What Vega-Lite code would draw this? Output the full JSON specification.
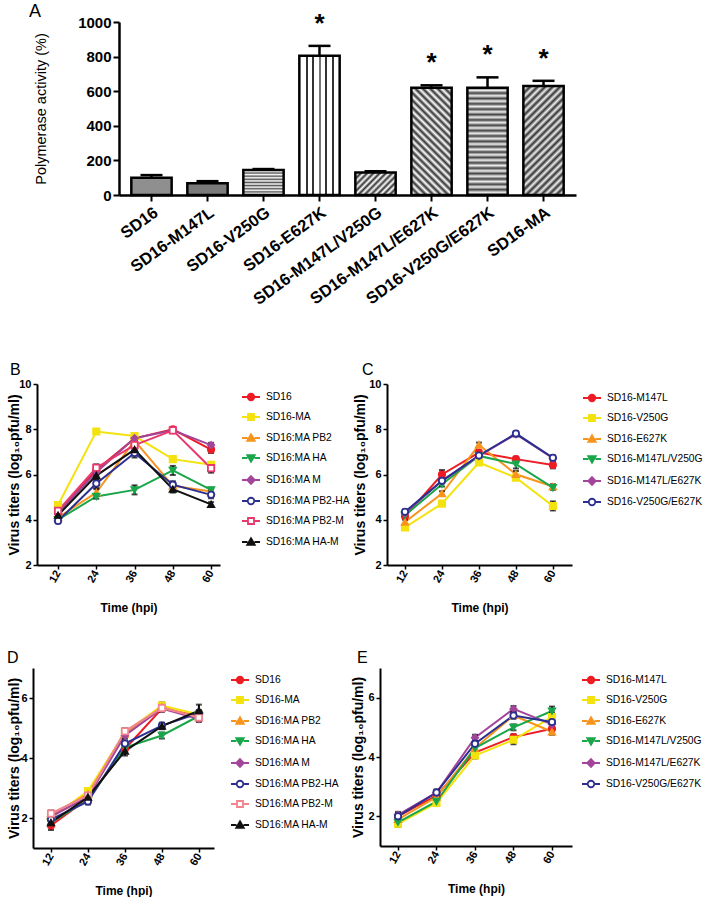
{
  "$schema": "https://vega.github.io/schema/vega-lite/v6.json",
  "background": "white",
  "padding": {"left": 0, "top": 2, "right": 0, "bottom": 0},
  "config": {
    "font": "Liberation Sans",
    "view": {"stroke": null},
    "axis": {"domainColor": "#000", "domainWidth": 2, "tickColor": "#000", "tickWidth": 1.5, "tickSize": 4, "labelColor": "#000", "titleColor": "#000", "grid": false, "labelFontWeight": "bold", "titleFontWeight": "bold", "labelFont": "Liberation Sans", "titleFont": "Liberation Sans", "labelPadding": 2, "labelOverlap": false},
    "legend": {"labelFont": "Liberation Sans", "labelFontSize": 10.3, "labelColor": "#000", "symbolSize": 100, "symbolStrokeWidth": 1.8, "rowPadding": 6, "labelOffset": 9},
    "title": {"font": "Liberation Sans", "fontWeight": "normal", "color": "#000"}
  },
  "datasets": {
    "A": [
      {"strain": "SD16", "activity": 100, "upper": 115, "sig": false},
      {"strain": "SD16-M147L", "activity": 68, "upper": 80, "sig": false},
      {"strain": "SD16-V250G", "activity": 145, "upper": 150, "sig": false},
      {"strain": "SD16-E627K", "activity": 805, "upper": 862, "sig": true},
      {"strain": "SD16-M147L/V250G", "activity": 130, "upper": 137, "sig": false},
      {"strain": "SD16-M147L/E627K", "activity": 620, "upper": 634, "sig": true},
      {"strain": "SD16-V250G/E627K", "activity": 620, "upper": 680, "sig": true},
      {"strain": "SD16-MA", "activity": 630, "upper": 660, "sig": true}
    ],
    "B": [
      {"strain": "SD16", "time": 12, "titer": 4.3, "err": 0.15},
      {"strain": "SD16", "time": 24, "titer": 6.2, "err": 0.15},
      {"strain": "SD16", "time": 36, "titer": 7.6, "err": 0.2},
      {"strain": "SD16", "time": 48, "titer": 8.0, "err": 0.1},
      {"strain": "SD16", "time": 60, "titer": 7.1, "err": 0.15},
      {"strain": "SD16-MA", "time": 12, "titer": 4.65, "err": 0.1},
      {"strain": "SD16-MA", "time": 24, "titer": 7.9, "err": 0.1},
      {"strain": "SD16-MA", "time": 36, "titer": 7.7, "err": 0.1},
      {"strain": "SD16-MA", "time": 48, "titer": 6.68, "err": 0.1},
      {"strain": "SD16-MA", "time": 60, "titer": 6.43, "err": 0.1},
      {"strain": "SD16:MA PB2", "time": 12, "titer": 4.1, "err": 0.1},
      {"strain": "SD16:MA PB2", "time": 24, "titer": 5.2, "err": 0.15},
      {"strain": "SD16:MA PB2", "time": 36, "titer": 7.5, "err": 0.3},
      {"strain": "SD16:MA PB2", "time": 48, "titer": 5.5, "err": 0.15},
      {"strain": "SD16:MA PB2", "time": 60, "titer": 5.25, "err": 0.1},
      {"strain": "SD16:MA HA", "time": 12, "titer": 4.0, "err": 0.1},
      {"strain": "SD16:MA HA", "time": 24, "titer": 5.03, "err": 0.1},
      {"strain": "SD16:MA HA", "time": 36, "titer": 5.32, "err": 0.2},
      {"strain": "SD16:MA HA", "time": 48, "titer": 6.18, "err": 0.2},
      {"strain": "SD16:MA HA", "time": 60, "titer": 5.32, "err": 0.1},
      {"strain": "SD16:MA M", "time": 12, "titer": 4.3, "err": 0.1},
      {"strain": "SD16:MA M", "time": 24, "titer": 6.1, "err": 0.15},
      {"strain": "SD16:MA M", "time": 36, "titer": 7.6, "err": 0.2},
      {"strain": "SD16:MA M", "time": 48, "titer": 7.95, "err": 0.1},
      {"strain": "SD16:MA M", "time": 60, "titer": 7.3, "err": 0.1},
      {"strain": "SD16:MA PB2-HA", "time": 12, "titer": 3.95, "err": 0.1},
      {"strain": "SD16:MA PB2-HA", "time": 24, "titer": 5.6, "err": 0.2},
      {"strain": "SD16:MA PB2-HA", "time": 36, "titer": 6.95, "err": 0.1},
      {"strain": "SD16:MA PB2-HA", "time": 48, "titer": 5.55, "err": 0.15},
      {"strain": "SD16:MA PB2-HA", "time": 60, "titer": 5.1, "err": 0.15},
      {"strain": "SD16:MA PB2-M", "time": 12, "titer": 4.4, "err": 0.15},
      {"strain": "SD16:MA PB2-M", "time": 24, "titer": 6.3, "err": 0.15},
      {"strain": "SD16:MA PB2-M", "time": 36, "titer": 7.3, "err": 0.2},
      {"strain": "SD16:MA PB2-M", "time": 48, "titer": 7.95, "err": 0.1},
      {"strain": "SD16:MA PB2-M", "time": 60, "titer": 6.28, "err": 0.2},
      {"strain": "SD16:MA HA-M", "time": 12, "titer": 4.2, "err": 0.1},
      {"strain": "SD16:MA HA-M", "time": 24, "titer": 5.95, "err": 0.2},
      {"strain": "SD16:MA HA-M", "time": 36, "titer": 7.1, "err": 0.35},
      {"strain": "SD16:MA HA-M", "time": 48, "titer": 5.35, "err": 0.15},
      {"strain": "SD16:MA HA-M", "time": 60, "titer": 4.68, "err": 0.1}
    ],
    "C": [
      {"strain": "SD16-M147L", "time": 12, "titer": 4.15, "err": 0.1},
      {"strain": "SD16-M147L", "time": 24, "titer": 6.0, "err": 0.2},
      {"strain": "SD16-M147L", "time": 36, "titer": 6.97, "err": 0.1},
      {"strain": "SD16-M147L", "time": 48, "titer": 6.68, "err": 0.1},
      {"strain": "SD16-M147L", "time": 60, "titer": 6.42, "err": 0.15},
      {"strain": "SD16-V250G", "time": 12, "titer": 3.66, "err": 0.1},
      {"strain": "SD16-V250G", "time": 24, "titer": 4.71, "err": 0.1},
      {"strain": "SD16-V250G", "time": 36, "titer": 6.53, "err": 0.1},
      {"strain": "SD16-V250G", "time": 48, "titer": 5.86, "err": 0.1},
      {"strain": "SD16-V250G", "time": 60, "titer": 4.61, "err": 0.2},
      {"strain": "SD16-E627K", "time": 12, "titer": 3.9, "err": 0.1},
      {"strain": "SD16-E627K", "time": 24, "titer": 5.16, "err": 0.1},
      {"strain": "SD16-E627K", "time": 36, "titer": 7.31, "err": 0.1},
      {"strain": "SD16-E627K", "time": 48, "titer": 6.01, "err": 0.15},
      {"strain": "SD16-E627K", "time": 60, "titer": 5.47, "err": 0.1},
      {"strain": "SD16-M147L/V250G", "time": 12, "titer": 4.2, "err": 0.1},
      {"strain": "SD16-M147L/V250G", "time": 24, "titer": 5.57, "err": 0.1},
      {"strain": "SD16-M147L/V250G", "time": 36, "titer": 6.82, "err": 0.1},
      {"strain": "SD16-M147L/V250G", "time": 48, "titer": 6.46, "err": 0.2},
      {"strain": "SD16-M147L/V250G", "time": 60, "titer": 5.42, "err": 0.1},
      {"strain": "SD16-M147L/E627K", "time": 12, "titer": 4.3, "err": 0.1},
      {"strain": "SD16-M147L/E627K", "time": 24, "titer": 5.72, "err": 0.1},
      {"strain": "SD16-M147L/E627K", "time": 36, "titer": 6.82, "err": 0.1},
      {"strain": "SD16-M147L/E627K", "time": 48, "titer": 7.78, "err": 0.1},
      {"strain": "SD16-M147L/E627K", "time": 60, "titer": 6.72, "err": 0.1},
      {"strain": "SD16-V250G/E627K", "time": 12, "titer": 4.35, "err": 0.1},
      {"strain": "SD16-V250G/E627K", "time": 24, "titer": 5.72, "err": 0.1},
      {"strain": "SD16-V250G/E627K", "time": 36, "titer": 6.84, "err": 0.1},
      {"strain": "SD16-V250G/E627K", "time": 48, "titer": 7.81, "err": 0.1},
      {"strain": "SD16-V250G/E627K", "time": 60, "titer": 6.74, "err": 0.1}
    ],
    "D": [
      {"strain": "SD16", "time": 12, "titer": 1.75, "err": 0.15},
      {"strain": "SD16", "time": 24, "titer": 2.65, "err": 0.1},
      {"strain": "SD16", "time": 36, "titer": 4.3, "err": 0.1},
      {"strain": "SD16", "time": 48, "titer": 5.65, "err": 0.1},
      {"strain": "SD16", "time": 60, "titer": 5.4, "err": 0.1},
      {"strain": "SD16-MA", "time": 12, "titer": 2.0, "err": 0.1},
      {"strain": "SD16-MA", "time": 24, "titer": 2.9, "err": 0.1},
      {"strain": "SD16-MA", "time": 36, "titer": 4.85, "err": 0.1},
      {"strain": "SD16-MA", "time": 48, "titer": 5.75, "err": 0.1},
      {"strain": "SD16-MA", "time": 60, "titer": 5.45, "err": 0.1},
      {"strain": "SD16:MA PB2", "time": 12, "titer": 2.1, "err": 0.1},
      {"strain": "SD16:MA PB2", "time": 24, "titer": 2.8, "err": 0.1},
      {"strain": "SD16:MA PB2", "time": 36, "titer": 4.8, "err": 0.1},
      {"strain": "SD16:MA PB2", "time": 48, "titer": 5.7, "err": 0.1},
      {"strain": "SD16:MA PB2", "time": 60, "titer": 5.35, "err": 0.1},
      {"strain": "SD16:MA HA", "time": 12, "titer": 1.85, "err": 0.1},
      {"strain": "SD16:MA HA", "time": 24, "titer": 2.6, "err": 0.1},
      {"strain": "SD16:MA HA", "time": 36, "titer": 4.35, "err": 0.1},
      {"strain": "SD16:MA HA", "time": 48, "titer": 4.75, "err": 0.1},
      {"strain": "SD16:MA HA", "time": 60, "titer": 5.4, "err": 0.1},
      {"strain": "SD16:MA M", "time": 12, "titer": 2.05, "err": 0.1},
      {"strain": "SD16:MA M", "time": 24, "titer": 2.7, "err": 0.1},
      {"strain": "SD16:MA M", "time": 36, "titer": 4.75, "err": 0.1},
      {"strain": "SD16:MA M", "time": 48, "titer": 5.65, "err": 0.1},
      {"strain": "SD16:MA M", "time": 60, "titer": 5.3, "err": 0.1},
      {"strain": "SD16:MA PB2-HA", "time": 12, "titer": 1.95, "err": 0.1},
      {"strain": "SD16:MA PB2-HA", "time": 24, "titer": 2.55, "err": 0.1},
      {"strain": "SD16:MA PB2-HA", "time": 36, "titer": 4.48, "err": 0.1},
      {"strain": "SD16:MA PB2-HA", "time": 48, "titer": 5.08, "err": 0.1},
      {"strain": "SD16:MA PB2-HA", "time": 60, "titer": 5.5, "err": 0.1},
      {"strain": "SD16:MA PB2-M", "time": 12, "titer": 2.15, "err": 0.1},
      {"strain": "SD16:MA PB2-M", "time": 24, "titer": 2.75, "err": 0.1},
      {"strain": "SD16:MA PB2-M", "time": 36, "titer": 4.89, "err": 0.1},
      {"strain": "SD16:MA PB2-M", "time": 48, "titer": 5.67, "err": 0.1},
      {"strain": "SD16:MA PB2-M", "time": 60, "titer": 5.35, "err": 0.1},
      {"strain": "SD16:MA HA-M", "time": 12, "titer": 1.85, "err": 0.15},
      {"strain": "SD16:MA HA-M", "time": 24, "titer": 2.7, "err": 0.1},
      {"strain": "SD16:MA HA-M", "time": 36, "titer": 4.23, "err": 0.15},
      {"strain": "SD16:MA HA-M", "time": 48, "titer": 5.06, "err": 0.1},
      {"strain": "SD16:MA HA-M", "time": 60, "titer": 5.58, "err": 0.2}
    ],
    "E": [
      {"strain": "SD16-M147L", "time": 12, "titer": 2.0, "err": 0.1},
      {"strain": "SD16-M147L", "time": 24, "titer": 2.7, "err": 0.1},
      {"strain": "SD16-M147L", "time": 36, "titer": 4.15, "err": 0.1},
      {"strain": "SD16-M147L", "time": 48, "titer": 4.67, "err": 0.1},
      {"strain": "SD16-M147L", "time": 60, "titer": 4.95, "err": 0.1},
      {"strain": "SD16-V250G", "time": 12, "titer": 1.75, "err": 0.1},
      {"strain": "SD16-V250G", "time": 24, "titer": 2.45, "err": 0.1},
      {"strain": "SD16-V250G", "time": 36, "titer": 4.05, "err": 0.1},
      {"strain": "SD16-V250G", "time": 48, "titer": 4.58, "err": 0.15},
      {"strain": "SD16-V250G", "time": 60, "titer": 5.35, "err": 0.15},
      {"strain": "SD16-E627K", "time": 12, "titer": 1.9, "err": 0.1},
      {"strain": "SD16-E627K", "time": 24, "titer": 2.65, "err": 0.1},
      {"strain": "SD16-E627K", "time": 36, "titer": 4.3, "err": 0.1},
      {"strain": "SD16-E627K", "time": 48, "titer": 5.4, "err": 0.1},
      {"strain": "SD16-E627K", "time": 60, "titer": 4.85, "err": 0.1},
      {"strain": "SD16-M147L/V250G", "time": 12, "titer": 1.8, "err": 0.1},
      {"strain": "SD16-M147L/V250G", "time": 24, "titer": 2.5, "err": 0.1},
      {"strain": "SD16-M147L/V250G", "time": 36, "titer": 4.3, "err": 0.1},
      {"strain": "SD16-M147L/V250G", "time": 48, "titer": 5.0, "err": 0.1},
      {"strain": "SD16-M147L/V250G", "time": 60, "titer": 5.55, "err": 0.15},
      {"strain": "SD16-M147L/E627K", "time": 12, "titer": 2.05, "err": 0.1},
      {"strain": "SD16-M147L/E627K", "time": 24, "titer": 2.8, "err": 0.1},
      {"strain": "SD16-M147L/E627K", "time": 36, "titer": 4.65, "err": 0.1},
      {"strain": "SD16-M147L/E627K", "time": 48, "titer": 5.62, "err": 0.1},
      {"strain": "SD16-M147L/E627K", "time": 60, "titer": 5.1, "err": 0.1},
      {"strain": "SD16-V250G/E627K", "time": 12, "titer": 2.0, "err": 0.1},
      {"strain": "SD16-V250G/E627K", "time": 24, "titer": 2.8, "err": 0.1},
      {"strain": "SD16-V250G/E627K", "time": 36, "titer": 4.45, "err": 0.1},
      {"strain": "SD16-V250G/E627K", "time": 48, "titer": 5.4, "err": 0.1},
      {"strain": "SD16-V250G/E627K", "time": 60, "titer": 5.18, "err": 0.1}
    ]
  },
  "spacing": 54,
  "vconcat": [
    {
      "spacing": 0,
      "hconcat": [
        {"width": 24, "height": 10, "data": {"values": [{"a": 1}]}, "mark": {"type": "point", "opacity": 0}, "view": {"stroke": "transparent"}},
        {
          "width": 457, "height": 173,
          "title": {"text": "A", "anchor": "start", "fontSize": 18, "offset": -10, "dx": -4},
          "data": {"name": "A"},
          "encoding": {
            "x": {"field": "strain", "type": "nominal", "sort": null, "scale": {"paddingInner": 0.28, "paddingOuter": 0.22},
              "axis": {"title": null, "labelAngle": -36, "labelFontSize": 16.5, "labelPadding": 3, "tickSize": 6, "tickWidth": 2, "domainWidth": 2.5}}
          },
          "layer": [
            {
              "mark": {"type": "bar", "stroke": "#000", "strokeWidth": 2.5},
              "encoding": {
                "y": {"field": "activity", "type": "quantitative", "scale": {"domain": [0, 1000], "nice": false},
                  "axis": {"values": [0, 200, 400, 600, 800, 1000], "format": "d", "title": "Polymerase activity (%)", "titleFontWeight": "normal", "titleFontSize": 14.5, "titleX": -71, "labelFontSize": 15, "tickSize": 6, "tickWidth": 2, "domainWidth": 2.5}},
                "fill": {
                  "condition": [
                    {"test": "datum.strain === 'SD16'", "value": "#8f8f8f"},
                    {"test": "datum.strain === 'SD16-M147L'", "value": "#7a7a7a"},
                    {"test": "datum.strain === 'SD16-V250G'", "value": {"gradient": "linear", "x1": 0, "y1": 0, "x2": 0, "y2": 1, "stops": [
                      {"offset": 0, "color": "#555555"}, {"offset": 0.0625, "color": "#ffffff"}, {"offset": 0.125, "color": "#555555"}, {"offset": 0.1875, "color": "#ffffff"},
                      {"offset": 0.25, "color": "#555555"}, {"offset": 0.3125, "color": "#ffffff"}, {"offset": 0.375, "color": "#555555"}, {"offset": 0.4375, "color": "#ffffff"},
                      {"offset": 0.5, "color": "#555555"}, {"offset": 0.5625, "color": "#ffffff"}, {"offset": 0.625, "color": "#555555"}, {"offset": 0.6875, "color": "#ffffff"},
                      {"offset": 0.75, "color": "#555555"}, {"offset": 0.8125, "color": "#ffffff"}, {"offset": 0.875, "color": "#555555"}, {"offset": 0.9375, "color": "#ffffff"}, {"offset": 1, "color": "#555555"}]}},
                    {"test": "datum.strain === 'SD16-E627K'", "value": {"gradient": "linear", "x1": 0, "y1": 0, "x2": 1, "y2": 0, "stops": [
                      {"offset": 0, "color": "#ffffff"}, {"offset": 0.155, "color": "#ffffff"}, {"offset": 0.155, "color": "#333333"}, {"offset": 0.205, "color": "#333333"}, {"offset": 0.205, "color": "#ffffff"},
                      {"offset": 0.325, "color": "#ffffff"}, {"offset": 0.325, "color": "#333333"}, {"offset": 0.375, "color": "#333333"}, {"offset": 0.375, "color": "#ffffff"},
                      {"offset": 0.485, "color": "#ffffff"}, {"offset": 0.485, "color": "#777777"}, {"offset": 0.535, "color": "#777777"}, {"offset": 0.535, "color": "#ffffff"},
                      {"offset": 0.645, "color": "#ffffff"}, {"offset": 0.645, "color": "#333333"}, {"offset": 0.695, "color": "#333333"}, {"offset": 0.695, "color": "#ffffff"},
                      {"offset": 0.805, "color": "#ffffff"}, {"offset": 0.805, "color": "#333333"}, {"offset": 0.855, "color": "#333333"}, {"offset": 0.855, "color": "#ffffff"}, {"offset": 1, "color": "#ffffff"}]}},
                    {"test": "datum.strain === 'SD16-M147L/V250G'", "value": {"gradient": "linear", "x1": 0, "y1": 0, "x2": 1.19, "y2": 0.655, "stops": [
                      {"offset": 0, "color": "#333333"}, {"offset": 0.05, "color": "#ffffff"}, {"offset": 0.1, "color": "#333333"}, {"offset": 0.15, "color": "#ffffff"},
                      {"offset": 0.2, "color": "#333333"}, {"offset": 0.25, "color": "#ffffff"}, {"offset": 0.3, "color": "#333333"}, {"offset": 0.35, "color": "#ffffff"},
                      {"offset": 0.4, "color": "#333333"}, {"offset": 0.45, "color": "#ffffff"}, {"offset": 0.5, "color": "#333333"}, {"offset": 0.55, "color": "#ffffff"},
                      {"offset": 0.6, "color": "#333333"}, {"offset": 0.65, "color": "#ffffff"}, {"offset": 0.7, "color": "#333333"}, {"offset": 0.75, "color": "#ffffff"},
                      {"offset": 0.8, "color": "#333333"}, {"offset": 0.85, "color": "#ffffff"}, {"offset": 0.9, "color": "#333333"}, {"offset": 0.95, "color": "#ffffff"}, {"offset": 1, "color": "#333333"}]}},
                    {"test": "datum.strain === 'SD16-M147L/E627K'", "value": {"gradient": "linear", "x1": 0, "y1": 1, "x2": 0.45, "y2": -0.205, "stops": [
                      {"offset": 0, "color": "#333333"}, {"offset": 0.025, "color": "#ffffff"}, {"offset": 0.05, "color": "#333333"}, {"offset": 0.075, "color": "#ffffff"}, {"offset": 0.1, "color": "#333333"}, {"offset": 0.125, "color": "#ffffff"}, {"offset": 0.15, "color": "#333333"}, {"offset": 0.175, "color": "#ffffff"}, {"offset": 0.2, "color": "#333333"}, {"offset": 0.225, "color": "#ffffff"},
                      {"offset": 0.25, "color": "#333333"}, {"offset": 0.275, "color": "#ffffff"}, {"offset": 0.3, "color": "#333333"}, {"offset": 0.325, "color": "#ffffff"}, {"offset": 0.35, "color": "#333333"}, {"offset": 0.375, "color": "#ffffff"}, {"offset": 0.4, "color": "#333333"}, {"offset": 0.425, "color": "#ffffff"}, {"offset": 0.45, "color": "#333333"}, {"offset": 0.475, "color": "#ffffff"},
                      {"offset": 0.5, "color": "#333333"}, {"offset": 0.525, "color": "#ffffff"}, {"offset": 0.55, "color": "#333333"}, {"offset": 0.575, "color": "#ffffff"}, {"offset": 0.6, "color": "#333333"}, {"offset": 0.625, "color": "#ffffff"}, {"offset": 0.65, "color": "#333333"}, {"offset": 0.675, "color": "#ffffff"}, {"offset": 0.7, "color": "#333333"}, {"offset": 0.725, "color": "#ffffff"},
                      {"offset": 0.75, "color": "#333333"}, {"offset": 0.775, "color": "#ffffff"}, {"offset": 0.8, "color": "#333333"}, {"offset": 0.825, "color": "#ffffff"}, {"offset": 0.85, "color": "#333333"}, {"offset": 0.875, "color": "#ffffff"}, {"offset": 0.9, "color": "#333333"}, {"offset": 0.925, "color": "#ffffff"}, {"offset": 0.95, "color": "#333333"}, {"offset": 0.975, "color": "#ffffff"}, {"offset": 1, "color": "#333333"}]}},
                    {"test": "datum.strain === 'SD16-V250G/E627K'", "value": {"gradient": "linear", "x1": 0, "y1": 0, "x2": 0, "y2": 1, "stops": [
                      {"offset": 0, "color": "#444444"}, {"offset": 0.025, "color": "#eeeeee"}, {"offset": 0.05, "color": "#444444"}, {"offset": 0.075, "color": "#eeeeee"}, {"offset": 0.1, "color": "#444444"}, {"offset": 0.125, "color": "#eeeeee"}, {"offset": 0.15, "color": "#444444"}, {"offset": 0.175, "color": "#eeeeee"}, {"offset": 0.2, "color": "#444444"}, {"offset": 0.225, "color": "#eeeeee"},
                      {"offset": 0.25, "color": "#444444"}, {"offset": 0.275, "color": "#eeeeee"}, {"offset": 0.3, "color": "#444444"}, {"offset": 0.325, "color": "#eeeeee"}, {"offset": 0.35, "color": "#444444"}, {"offset": 0.375, "color": "#eeeeee"}, {"offset": 0.4, "color": "#444444"}, {"offset": 0.425, "color": "#eeeeee"}, {"offset": 0.45, "color": "#444444"}, {"offset": 0.475, "color": "#eeeeee"},
                      {"offset": 0.5, "color": "#444444"}, {"offset": 0.525, "color": "#eeeeee"}, {"offset": 0.55, "color": "#444444"}, {"offset": 0.575, "color": "#eeeeee"}, {"offset": 0.6, "color": "#444444"}, {"offset": 0.625, "color": "#eeeeee"}, {"offset": 0.65, "color": "#444444"}, {"offset": 0.675, "color": "#eeeeee"}, {"offset": 0.7, "color": "#444444"}, {"offset": 0.725, "color": "#eeeeee"},
                      {"offset": 0.75, "color": "#444444"}, {"offset": 0.775, "color": "#eeeeee"}, {"offset": 0.8, "color": "#444444"}, {"offset": 0.825, "color": "#eeeeee"}, {"offset": 0.85, "color": "#444444"}, {"offset": 0.875, "color": "#eeeeee"}, {"offset": 0.9, "color": "#444444"}, {"offset": 0.925, "color": "#eeeeee"}, {"offset": 0.95, "color": "#444444"}, {"offset": 0.975, "color": "#eeeeee"}, {"offset": 1, "color": "#444444"}]}},
                    {"test": "datum.strain === 'SD16-MA'", "value": {"gradient": "linear", "x1": 0, "y1": 0, "x2": 0.442, "y2": 1.204, "stops": [
                      {"offset": 0, "color": "#333333"}, {"offset": 0.025, "color": "#eeeeee"}, {"offset": 0.05, "color": "#333333"}, {"offset": 0.075, "color": "#eeeeee"}, {"offset": 0.1, "color": "#333333"}, {"offset": 0.125, "color": "#eeeeee"}, {"offset": 0.15, "color": "#333333"}, {"offset": 0.175, "color": "#eeeeee"}, {"offset": 0.2, "color": "#333333"}, {"offset": 0.225, "color": "#eeeeee"},
                      {"offset": 0.25, "color": "#333333"}, {"offset": 0.275, "color": "#eeeeee"}, {"offset": 0.3, "color": "#333333"}, {"offset": 0.325, "color": "#eeeeee"}, {"offset": 0.35, "color": "#333333"}, {"offset": 0.375, "color": "#eeeeee"}, {"offset": 0.4, "color": "#333333"}, {"offset": 0.425, "color": "#eeeeee"}, {"offset": 0.45, "color": "#333333"}, {"offset": 0.475, "color": "#eeeeee"},
                      {"offset": 0.5, "color": "#333333"}, {"offset": 0.525, "color": "#eeeeee"}, {"offset": 0.55, "color": "#333333"}, {"offset": 0.575, "color": "#eeeeee"}, {"offset": 0.6, "color": "#333333"}, {"offset": 0.625, "color": "#eeeeee"}, {"offset": 0.65, "color": "#333333"}, {"offset": 0.675, "color": "#eeeeee"}, {"offset": 0.7, "color": "#333333"}, {"offset": 0.725, "color": "#eeeeee"},
                      {"offset": 0.75, "color": "#333333"}, {"offset": 0.775, "color": "#eeeeee"}, {"offset": 0.8, "color": "#333333"}, {"offset": 0.825, "color": "#eeeeee"}, {"offset": 0.85, "color": "#333333"}, {"offset": 0.875, "color": "#eeeeee"}, {"offset": 0.9, "color": "#333333"}, {"offset": 0.925, "color": "#eeeeee"}, {"offset": 0.95, "color": "#333333"}, {"offset": 0.975, "color": "#eeeeee"}, {"offset": 1, "color": "#333333"}]}}
                  ],
                  "value": "#999999"
                }
              }
            },
            {"mark": {"type": "rule", "strokeWidth": 2.5, "color": "#000"}, "encoding": {"y": {"field": "activity", "type": "quantitative", "axis": {"values": [0, 200, 400, 600, 800, 1000], "format": "d", "title": "Polymerase activity (%)", "titleFontWeight": "normal", "titleFontSize": 14.5, "titleX": -71, "labelFontSize": 15, "tickSize": 6, "tickWidth": 2, "domainWidth": 2.5}}, "y2": {"field": "upper"}}},
            {"mark": {"type": "tick", "thickness": 2.5, "size": 22, "color": "#000", "opacity": 1}, "encoding": {"y": {"field": "upper", "type": "quantitative", "axis": {"values": [0, 200, 400, 600, 800, 1000], "format": "d", "title": "Polymerase activity (%)", "titleFontWeight": "normal", "titleFontSize": 14.5, "titleX": -71, "labelFontSize": 15, "tickSize": 6, "tickWidth": 2, "domainWidth": 2.5}}}},
            {"transform": [{"filter": "datum.sig"}], "mark": {"type": "text", "fontSize": 26, "fontWeight": "bold", "baseline": "middle", "dy": -22, "color": "#000"}, "encoding": {"y": {"field": "upper", "type": "quantitative", "axis": {"values": [0, 200, 400, 600, 800, 1000], "format": "d", "title": "Polymerase activity (%)", "titleFontWeight": "normal", "titleFontSize": 14.5, "titleX": -71, "labelFontSize": 15, "tickSize": 6, "tickWidth": 2, "domainWidth": 2.5}}, "text": {"value": "*"}}}
          ]
        }
      ]
    },
    {
      "spacing": 36,
      "vconcat": [
        {
          "spacing": 0,
          "hconcat": [
            {"width": 1, "height": 10, "data": {"values": [{"a": 1}]}, "mark": {"type": "point", "opacity": 0}, "view": {"stroke": "transparent"}},
            {
              "spacing": 2,
              "hconcat": [
                {
                  "width": 183, "height": 181,
                  "title": {"text": "B", "anchor": "start", "fontSize": 16, "offset": 0, "dx": 3},
                  "data": {"name": "B"},
                  "encoding": {
                    "x": {"field": "time", "type": "quantitative", "scale": {"domain": [5.4, 62.8], "nice": false, "zero": false}, "axis": {"values": [12, 24, 36, 48, 60], "title": "Time (hpi)", "labelAngle": -60, "labelFontSize": 11, "titleFontSize": 12, "titlePadding": 18}},
                    "y": {"field": "titer", "type": "quantitative", "scale": {"domain": [2, 10], "nice": false, "zero": false}, "axis": {"values": [2, 4, 6, 8, 10], "title": "Virus titers (log₁₀pfu/ml)", "labelFontSize": 11, "titleFontSize": 14, "titleX": -16}}
                  },
                  "layer": [
                    {"mark": {"type": "line", "strokeWidth": 2}, "encoding": {"color": {"field": "strain", "type": "nominal", "scale": {"domain": ["SD16", "SD16-MA", "SD16:MA PB2", "SD16:MA HA", "SD16:MA M", "SD16:MA PB2-HA", "SD16:MA PB2-M", "SD16:MA HA-M"], "range": ["#ed1c24", "#f4e20f", "#f7941d", "#1aa64a", "#a2459b", "#2b2f8f", "#e8386d", "#111111"]}, "legend": null}}},
                    {"mark": {"type": "errorbar", "color": "#000", "ticks": true, "size": 6, "thickness": 2}, "encoding": {"yError": {"field": "err"}}},
                    {"mark": {"type": "point", "filled": false, "size": 40, "strokeWidth": 1.8, "opacity": 1}, "encoding": {
                      "color": {"field": "strain", "type": "nominal", "scale": {"domain": ["SD16", "SD16-MA", "SD16:MA PB2", "SD16:MA HA", "SD16:MA M", "SD16:MA PB2-HA", "SD16:MA PB2-M", "SD16:MA HA-M"], "range": ["#ed1c24", "#f4e20f", "#f7941d", "#1aa64a", "#a2459b", "#2b2f8f", "#e8386d", "#111111"]}, "legend": null},
                      "fill": {"field": "strain", "type": "nominal", "scale": {"domain": ["SD16", "SD16-MA", "SD16:MA PB2", "SD16:MA HA", "SD16:MA M", "SD16:MA PB2-HA", "SD16:MA PB2-M", "SD16:MA HA-M"], "range": ["#ed1c24", "#f4e20f", "#f7941d", "#1aa64a", "#a2459b", "#ffffff", "#ffffff", "#111111"]}, "legend": null},
                      "shape": {"field": "strain", "type": "nominal", "scale": {"domain": ["SD16", "SD16-MA", "SD16:MA PB2", "SD16:MA HA", "SD16:MA M", "SD16:MA PB2-HA", "SD16:MA PB2-M", "SD16:MA HA-M"], "range": ["circle", "square", "triangle-up", "triangle-down", "diamond", "circle", "square", "triangle-up"]}, "legend": null}}},
                    {"transform": [{"filter": "false"}], "mark": {"type": "point", "filled": false, "strokeWidth": 1.8, "opacity": 1}, "encoding": {
                      "color": {"field": "strain", "type": "nominal", "scale": {"domain": ["SD16", "SD16-MA", "SD16:MA PB2", "SD16:MA HA", "SD16:MA M", "SD16:MA PB2-HA", "SD16:MA PB2-M", "SD16:MA HA-M"], "range": ["#ed1c24", "#f4e20f", "#f7941d", "#1aa64a", "#a2459b", "#2b2f8f", "#e8386d", "#111111"]}, "legend": {"orient": "none", "legendX": 208, "legendY": 7, "title": null}},
                      "fill": {"field": "strain", "type": "nominal", "scale": {"domain": ["SD16", "SD16-MA", "SD16:MA PB2", "SD16:MA HA", "SD16:MA M", "SD16:MA PB2-HA", "SD16:MA PB2-M", "SD16:MA HA-M"], "range": ["#ed1c24", "#f4e20f", "#f7941d", "#1aa64a", "#a2459b", "#ffffff", "#ffffff", "#111111"]}, "legend": {"orient": "none", "legendX": 208, "legendY": 7, "title": null}},
                      "shape": {"field": "strain", "type": "nominal", "scale": {"domain": ["SD16", "SD16-MA", "SD16:MA PB2", "SD16:MA HA", "SD16:MA M", "SD16:MA PB2-HA", "SD16:MA PB2-M", "SD16:MA HA-M"], "range": [
                        "M-1.8,0H-0.65M0.65,0H1.8M-0.65,0A0.65,0.65,0,1,0,0.65,0A0.65,0.65,0,1,0,-0.65,0Z",
                        "M-1.8,0H-0.6M0.6,0H1.8M-0.6,-0.6H0.6V0.6H-0.6Z",
                        "M-1.8,0H-0.7M0.7,0H1.8M0,-0.75L0.75,0.55H-0.75Z",
                        "M-1.8,0H-0.7M0.7,0H1.8M0,0.75L0.75,-0.55H-0.75Z",
                        "M-1.8,0H-0.75M0.75,0H1.8M0,-0.8L0.75,0L0,0.8L-0.75,0Z",
                        "M-1.8,0H-0.65M0.65,0H1.8M-0.65,0A0.65,0.65,0,1,0,0.65,0A0.65,0.65,0,1,0,-0.65,0Z",
                        "M-1.8,0H-0.6M0.6,0H1.8M-0.6,-0.6H0.6V0.6H-0.6Z",
                        "M-1.8,0H-0.7M0.7,0H1.8M0,-0.75L0.75,0.55H-0.75Z"]}, "legend": {"orient": "none", "legendX": 208, "legendY": 7, "title": null}}}}
                  ],
                  "resolve": {"scale": {"color": "independent", "fill": "independent", "shape": "independent"}}
                },
                {
                  "width": 185, "height": 181,
                  "title": {"text": "C", "anchor": "start", "fontSize": 16, "offset": 0, "dx": 9},
                  "data": {"name": "C"},
                  "encoding": {
                    "x": {"field": "time", "type": "quantitative", "scale": {"domain": [6.16, 66.2], "nice": false, "zero": false}, "axis": {"values": [12, 24, 36, 48, 60], "title": "Time (hpi)", "labelAngle": -60, "labelFontSize": 11, "titleFontSize": 12, "titlePadding": 18}},
                    "y": {"field": "titer", "type": "quantitative", "scale": {"domain": [2, 10], "nice": false, "zero": false}, "axis": {"values": [2, 4, 6, 8, 10], "title": "Virus titers (log₁₀pfu/ml)", "labelFontSize": 11, "titleFontSize": 14, "titleX": -20}}
                  },
                  "layer": [
                    {"mark": {"type": "line", "strokeWidth": 2}, "encoding": {"color": {"field": "strain", "type": "nominal", "scale": {"domain": ["SD16-M147L", "SD16-V250G", "SD16-E627K", "SD16-M147L/V250G", "SD16-M147L/E627K", "SD16-V250G/E627K"], "range": ["#ed1c24", "#f4e20f", "#f7941d", "#1aa64a", "#a2459b", "#2b2f8f"]}, "legend": null}}},
                    {"mark": {"type": "errorbar", "color": "#000", "ticks": true, "size": 6, "thickness": 2}, "encoding": {"yError": {"field": "err"}}},
                    {"mark": {"type": "point", "filled": false, "size": 40, "strokeWidth": 1.8, "opacity": 1}, "encoding": {
                      "color": {"field": "strain", "type": "nominal", "scale": {"domain": ["SD16-M147L", "SD16-V250G", "SD16-E627K", "SD16-M147L/V250G", "SD16-M147L/E627K", "SD16-V250G/E627K"], "range": ["#ed1c24", "#f4e20f", "#f7941d", "#1aa64a", "#a2459b", "#2b2f8f"]}, "legend": null},
                      "fill": {"field": "strain", "type": "nominal", "scale": {"domain": ["SD16-M147L", "SD16-V250G", "SD16-E627K", "SD16-M147L/V250G", "SD16-M147L/E627K", "SD16-V250G/E627K"], "range": ["#ed1c24", "#f4e20f", "#f7941d", "#1aa64a", "#a2459b", "#ffffff"]}, "legend": null},
                      "shape": {"field": "strain", "type": "nominal", "scale": {"domain": ["SD16-M147L", "SD16-V250G", "SD16-E627K", "SD16-M147L/V250G", "SD16-M147L/E627K", "SD16-V250G/E627K"], "range": ["circle", "square", "triangle-up", "triangle-down", "diamond", "circle"]}, "legend": null}}},
                    {"transform": [{"filter": "false"}], "mark": {"type": "point", "filled": false, "strokeWidth": 1.8, "opacity": 1}, "encoding": {
                      "color": {"field": "strain", "type": "nominal", "scale": {"domain": ["SD16-M147L", "SD16-V250G", "SD16-E627K", "SD16-M147L/V250G", "SD16-M147L/E627K", "SD16-V250G/E627K"], "range": ["#ed1c24", "#f4e20f", "#f7941d", "#1aa64a", "#a2459b", "#2b2f8f"]}, "legend": {"orient": "none", "legendX": 199, "legendY": 8, "title": null}},
                      "fill": {"field": "strain", "type": "nominal", "scale": {"domain": ["SD16-M147L", "SD16-V250G", "SD16-E627K", "SD16-M147L/V250G", "SD16-M147L/E627K", "SD16-V250G/E627K"], "range": ["#ed1c24", "#f4e20f", "#f7941d", "#1aa64a", "#a2459b", "#ffffff"]}, "legend": {"orient": "none", "legendX": 199, "legendY": 8, "title": null}},
                      "shape": {"field": "strain", "type": "nominal", "scale": {"domain": ["SD16-M147L", "SD16-V250G", "SD16-E627K", "SD16-M147L/V250G", "SD16-M147L/E627K", "SD16-V250G/E627K"], "range": [
                        "M-1.8,0H-0.65M0.65,0H1.8M-0.65,0A0.65,0.65,0,1,0,0.65,0A0.65,0.65,0,1,0,-0.65,0Z",
                        "M-1.8,0H-0.6M0.6,0H1.8M-0.6,-0.6H0.6V0.6H-0.6Z",
                        "M-1.8,0H-0.7M0.7,0H1.8M0,-0.75L0.75,0.55H-0.75Z",
                        "M-1.8,0H-0.7M0.7,0H1.8M0,0.75L0.75,-0.55H-0.75Z",
                        "M-1.8,0H-0.75M0.75,0H1.8M0,-0.8L0.75,0L0,0.8L-0.75,0Z",
                        "M-1.8,0H-0.65M0.65,0H1.8M-0.65,0A0.65,0.65,0,1,0,0.65,0A0.65,0.65,0,1,0,-0.65,0Z"]}, "legend": {"orient": "none", "legendX": 199, "legendY": 8, "title": null}}}}
                  ],
                  "resolve": {"scale": {"color": "independent", "fill": "independent", "shape": "independent"}}
                }
              ]
            }
          ]
        },
        {
          "spacing": 0,
          "hconcat": [
            {"width": 1, "height": 10, "data": {"values": [{"a": 1}]}, "mark": {"type": "point", "opacity": 0}, "view": {"stroke": "transparent"}},
            {
              "spacing": 11,
              "hconcat": [
                {
                  "width": 181, "height": 180,
                  "title": {"text": "D", "anchor": "start", "fontSize": 16, "offset": 2, "dx": 0},
                  "data": {"name": "D"},
                  "encoding": {
                    "x": {"field": "time", "type": "quantitative", "scale": {"domain": [6.16, 64.9], "nice": false, "zero": false}, "axis": {"values": [12, 24, 36, 48, 60], "title": "Time (hpi)", "labelAngle": -60, "labelFontSize": 11, "titleFontSize": 12, "titlePadding": 18}},
                    "y": {"field": "titer", "type": "quantitative", "scale": {"domain": [1, 7], "nice": false, "zero": false}, "axis": {"values": [2, 4, 6], "title": "Virus titers (log₁₀pfu/ml)", "labelFontSize": 11, "titleFontSize": 14, "titleX": -12}}
                  },
                  "layer": [
                    {"mark": {"type": "line", "strokeWidth": 2}, "encoding": {"color": {"field": "strain", "type": "nominal", "scale": {"domain": ["SD16", "SD16-MA", "SD16:MA PB2", "SD16:MA HA", "SD16:MA M", "SD16:MA PB2-HA", "SD16:MA PB2-M", "SD16:MA HA-M"], "range": ["#ed1c24", "#f4e20f", "#f7941d", "#1aa64a", "#a2459b", "#2b2f8f", "#f08590", "#111111"]}, "legend": null}}},
                    {"mark": {"type": "errorbar", "color": "#000", "ticks": true, "size": 6, "thickness": 2}, "encoding": {"yError": {"field": "err"}}},
                    {"mark": {"type": "point", "filled": false, "size": 40, "strokeWidth": 1.8, "opacity": 1}, "encoding": {
                      "color": {"field": "strain", "type": "nominal", "scale": {"domain": ["SD16", "SD16-MA", "SD16:MA PB2", "SD16:MA HA", "SD16:MA M", "SD16:MA PB2-HA", "SD16:MA PB2-M", "SD16:MA HA-M"], "range": ["#ed1c24", "#f4e20f", "#f7941d", "#1aa64a", "#a2459b", "#2b2f8f", "#f08590", "#111111"]}, "legend": null},
                      "fill": {"field": "strain", "type": "nominal", "scale": {"domain": ["SD16", "SD16-MA", "SD16:MA PB2", "SD16:MA HA", "SD16:MA M", "SD16:MA PB2-HA", "SD16:MA PB2-M", "SD16:MA HA-M"], "range": ["#ed1c24", "#f4e20f", "#f7941d", "#1aa64a", "#a2459b", "#ffffff", "#ffffff", "#111111"]}, "legend": null},
                      "shape": {"field": "strain", "type": "nominal", "scale": {"domain": ["SD16", "SD16-MA", "SD16:MA PB2", "SD16:MA HA", "SD16:MA M", "SD16:MA PB2-HA", "SD16:MA PB2-M", "SD16:MA HA-M"], "range": ["circle", "square", "triangle-up", "triangle-down", "diamond", "circle", "square", "triangle-up"]}, "legend": null}}},
                    {"transform": [{"filter": "false"}], "mark": {"type": "point", "filled": false, "strokeWidth": 1.8, "opacity": 1}, "encoding": {
                      "color": {"field": "strain", "type": "nominal", "scale": {"domain": ["SD16", "SD16-MA", "SD16:MA PB2", "SD16:MA HA", "SD16:MA M", "SD16:MA PB2-HA", "SD16:MA PB2-M", "SD16:MA HA-M"], "range": ["#ed1c24", "#f4e20f", "#f7941d", "#1aa64a", "#a2459b", "#2b2f8f", "#f08590", "#111111"]}, "legend": {"orient": "none", "legendX": 201, "legendY": 6, "title": null}},
                      "fill": {"field": "strain", "type": "nominal", "scale": {"domain": ["SD16", "SD16-MA", "SD16:MA PB2", "SD16:MA HA", "SD16:MA M", "SD16:MA PB2-HA", "SD16:MA PB2-M", "SD16:MA HA-M"], "range": ["#ed1c24", "#f4e20f", "#f7941d", "#1aa64a", "#a2459b", "#ffffff", "#ffffff", "#111111"]}, "legend": {"orient": "none", "legendX": 201, "legendY": 6, "title": null}},
                      "shape": {"field": "strain", "type": "nominal", "scale": {"domain": ["SD16", "SD16-MA", "SD16:MA PB2", "SD16:MA HA", "SD16:MA M", "SD16:MA PB2-HA", "SD16:MA PB2-M", "SD16:MA HA-M"], "range": [
                        "M-1.8,0H-0.65M0.65,0H1.8M-0.65,0A0.65,0.65,0,1,0,0.65,0A0.65,0.65,0,1,0,-0.65,0Z",
                        "M-1.8,0H-0.6M0.6,0H1.8M-0.6,-0.6H0.6V0.6H-0.6Z",
                        "M-1.8,0H-0.7M0.7,0H1.8M0,-0.75L0.75,0.55H-0.75Z",
                        "M-1.8,0H-0.7M0.7,0H1.8M0,0.75L0.75,-0.55H-0.75Z",
                        "M-1.8,0H-0.75M0.75,0H1.8M0,-0.8L0.75,0L0,0.8L-0.75,0Z",
                        "M-1.8,0H-0.65M0.65,0H1.8M-0.65,0A0.65,0.65,0,1,0,0.65,0A0.65,0.65,0,1,0,-0.65,0Z",
                        "M-1.8,0H-0.6M0.6,0H1.8M-0.6,-0.6H0.6V0.6H-0.6Z",
                        "M-1.8,0H-0.7M0.7,0H1.8M0,-0.75L0.75,0.55H-0.75Z"]}, "legend": {"orient": "none", "legendX": 201, "legendY": 6, "title": null}}}}
                  ],
                  "resolve": {"scale": {"color": "independent", "fill": "independent", "shape": "independent"}}
                },
                {
                  "width": 192, "height": 178,
                  "title": {"text": "E", "anchor": "start", "fontSize": 16, "offset": 2, "dx": 6},
                  "data": {"name": "E"},
                  "encoding": {
                    "x": {"field": "time", "type": "quantitative", "scale": {"domain": [6.39, 66.24], "nice": false, "zero": false}, "axis": {"values": [12, 24, 36, 48, 60], "title": "Time (hpi)", "labelAngle": -60, "labelFontSize": 11, "titleFontSize": 12, "titlePadding": 18}},
                    "y": {"field": "titer", "type": "quantitative", "scale": {"domain": [1, 7], "nice": false, "zero": false}, "axis": {"values": [2, 4, 6], "title": "Virus titers (log₁₀pfu/ml)", "labelFontSize": 11, "titleFontSize": 14, "titleX": -15}}
                  },
                  "layer": [
                    {"mark": {"type": "line", "strokeWidth": 2}, "encoding": {"color": {"field": "strain", "type": "nominal", "scale": {"domain": ["SD16-M147L", "SD16-V250G", "SD16-E627K", "SD16-M147L/V250G", "SD16-M147L/E627K", "SD16-V250G/E627K"], "range": ["#ed1c24", "#f4e20f", "#f7941d", "#1aa64a", "#a2459b", "#2b2f8f"]}, "legend": null}}},
                    {"mark": {"type": "errorbar", "color": "#000", "ticks": true, "size": 6, "thickness": 2}, "encoding": {"yError": {"field": "err"}}},
                    {"mark": {"type": "point", "filled": false, "size": 40, "strokeWidth": 1.8, "opacity": 1}, "encoding": {
                      "color": {"field": "strain", "type": "nominal", "scale": {"domain": ["SD16-M147L", "SD16-V250G", "SD16-E627K", "SD16-M147L/V250G", "SD16-M147L/E627K", "SD16-V250G/E627K"], "range": ["#ed1c24", "#f4e20f", "#f7941d", "#1aa64a", "#a2459b", "#2b2f8f"]}, "legend": null},
                      "fill": {"field": "strain", "type": "nominal", "scale": {"domain": ["SD16-M147L", "SD16-V250G", "SD16-E627K", "SD16-M147L/V250G", "SD16-M147L/E627K", "SD16-V250G/E627K"], "range": ["#ed1c24", "#f4e20f", "#f7941d", "#1aa64a", "#a2459b", "#ffffff"]}, "legend": null},
                      "shape": {"field": "strain", "type": "nominal", "scale": {"domain": ["SD16-M147L", "SD16-V250G", "SD16-E627K", "SD16-M147L/V250G", "SD16-M147L/E627K", "SD16-V250G/E627K"], "range": ["circle", "square", "triangle-up", "triangle-down", "diamond", "circle"]}, "legend": null}}},
                    {"transform": [{"filter": "false"}], "mark": {"type": "point", "filled": false, "strokeWidth": 1.8, "opacity": 1}, "encoding": {
                      "color": {"field": "strain", "type": "nominal", "scale": {"domain": ["SD16-M147L", "SD16-V250G", "SD16-E627K", "SD16-M147L/V250G", "SD16-M147L/E627K", "SD16-V250G/E627K"], "range": ["#ed1c24", "#f4e20f", "#f7941d", "#1aa64a", "#a2459b", "#2b2f8f"]}, "legend": {"orient": "none", "legendX": 205, "legendY": 6, "title": null}},
                      "fill": {"field": "strain", "type": "nominal", "scale": {"domain": ["SD16-M147L", "SD16-V250G", "SD16-E627K", "SD16-M147L/V250G", "SD16-M147L/E627K", "SD16-V250G/E627K"], "range": ["#ed1c24", "#f4e20f", "#f7941d", "#1aa64a", "#a2459b", "#ffffff"]}, "legend": {"orient": "none", "legendX": 205, "legendY": 6, "title": null}},
                      "shape": {"field": "strain", "type": "nominal", "scale": {"domain": ["SD16-M147L", "SD16-V250G", "SD16-E627K", "SD16-M147L/V250G", "SD16-M147L/E627K", "SD16-V250G/E627K"], "range": [
                        "M-1.8,0H-0.65M0.65,0H1.8M-0.65,0A0.65,0.65,0,1,0,0.65,0A0.65,0.65,0,1,0,-0.65,0Z",
                        "M-1.8,0H-0.6M0.6,0H1.8M-0.6,-0.6H0.6V0.6H-0.6Z",
                        "M-1.8,0H-0.7M0.7,0H1.8M0,-0.75L0.75,0.55H-0.75Z",
                        "M-1.8,0H-0.7M0.7,0H1.8M0,0.75L0.75,-0.55H-0.75Z",
                        "M-1.8,0H-0.75M0.75,0H1.8M0,-0.8L0.75,0L0,0.8L-0.75,0Z",
                        "M-1.8,0H-0.65M0.65,0H1.8M-0.65,0A0.65,0.65,0,1,0,0.65,0A0.65,0.65,0,1,0,-0.65,0Z"]}, "legend": {"orient": "none", "legendX": 205, "legendY": 6, "title": null}}}}
                  ],
                  "resolve": {"scale": {"color": "independent", "fill": "independent", "shape": "independent"}}
                }
              ]
            }
          ]
        }
      ]
    }
  ]
}
